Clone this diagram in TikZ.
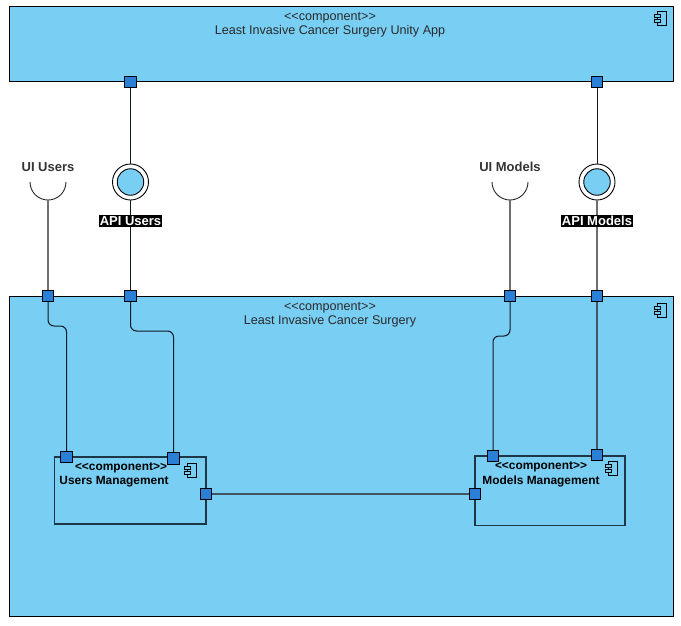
\documentclass[tikz,border=0pt]{standalone}
\usepackage{fontspec}
\setmainfont{Liberation Sans}
\begin{document}
\begin{tikzpicture}[x=1pt,y=-1pt,
  comp/.style={draw=black,line width=1pt,fill=compblue},
  subcomp/.style={draw=subline,line width=1.6pt},
  port/.style={draw=black,line width=0.9pt,fill=portblue,minimum size=11.5pt,inner sep=0pt,rectangle},
  wire/.style={draw=wireblk,line width=1pt},
  gwire/.style={draw=wiregray,line width=1.4pt},
  ttl/.style={font=\fontsize{12.6}{14}\selectfont,text=titlegray,inner sep=0pt},
  subttl/.style={font=\bfseries\fontsize{11.9}{13}\selectfont,text=black,inner sep=0pt},
  lbl/.style={font=\bfseries\fontsize{13}{15}\selectfont,text=lblgray,inner sep=0pt},
  apilbl/.style={font=\bfseries\fontsize{13}{15}\selectfont,text=white,fill=black,inner xsep=1pt,inner ysep=1.5pt},
]
\definecolor{compblue}{HTML}{79CEF4}
\definecolor{portblue}{HTML}{2A80D6}
\definecolor{subline}{HTML}{1E3746}
\definecolor{wireblk}{HTML}{101820}
\definecolor{wiregray}{HTML}{6E6E6E}
\definecolor{titlegray}{HTML}{2A2A2A}
\definecolor{lblgray}{HTML}{333333}
\useasboundingbox (0,0) rectangle (681,625);

% component icon
\newcommand{\compicon}[2]{%
  \draw[line width=0.8pt,fill=compblue] (#1-4,#2-7) rectangle (#1+5,#2+7);
  \draw[line width=0.8pt,fill=compblue] (#1-7,#2-4) rectangle (#1-1,#2-1);
  \draw[line width=0.8pt,fill=compblue] (#1-7,#2+1) rectangle (#1-1,#2+4);
}

% top component
\path[comp] (9,6) rectangle (673,81);
\node[ttl] (topst) at (330,17.5) {{<}{<}component{>}{>}};
\node[ttl] (topname) at (330,31.5) {Least Invasive Cancer Surgery Unity App};
\compicon{661}{18}

% main component
\path[comp] (9,296) rectangle (673,616);
\node[ttl] (mainst) at (330,307.5) {{<}{<}component{>}{>}};
\node[ttl] (mainname) at (330,321.5) {Least Invasive Cancer Surgery};
\compicon{661}{310}

% sub components
\draw[subcomp] (54.5,457) rectangle (206,524);
\node[subttl] (umst) at (121,468) {{<}{<}component{>}{>}};
\node[subttl] (umname) at (114,482) {Users Management};
\compicon{191}{470}

\draw[subcomp] (475,456) rectangle (625,525.5);
\node[subttl] (mmst) at (541,467) {{<}{<}component{>}{>}};
\node[subttl] (mmname) at (541,481) {Models Management};
\compicon{612}{468}

% required interfaces (sockets)
\draw[line width=0.9pt,draw=black!85] (30,182) arc[start angle=180,end angle=0,radius=18];
\draw[line width=0.9pt,draw=black!85] (492,182) arc[start angle=180,end angle=0,radius=18];
\coordinate (uiuB) at (48,200);
\coordinate (uimB) at (510,200);
\node[lbl] (uiulbl) at (48,167) {UI Users};
\node[lbl] (uimlbl) at (510,167) {UI Models};

% provided interfaces (lollipops)
\node[circle,draw=black,line width=0.9pt,fill=white,minimum size=36pt,inner sep=0pt] (apiu) at (130.5,182) {};
\node[circle,draw=black,line width=0.9pt,fill=compblue,minimum size=26.5pt,inner sep=0pt] at (130.5,182) {};
\node[circle,draw=black,line width=0.9pt,fill=white,minimum size=36pt,inner sep=0pt] (apim) at (597,182) {};
\node[circle,draw=black,line width=0.9pt,fill=compblue,minimum size=26.5pt,inner sep=0pt] at (597,182) {};

% ports
\node[port] (pt1) at (130.5,82) {};
\node[port] (pt2) at (597,82) {};
\node[port] (pm1) at (48,296) {};
\node[port] (pm2) at (130.5,296) {};
\node[port] (pm3) at (510,296) {};
\node[port] (pm4) at (597,296) {};
\node[port] (pu1) at (66.5,457) {};
\node[port] (pu2) at (173.5,458.5) {};
\node[port] (pu3) at (206,494) {};
\node[port] (pd1) at (493,456) {};
\node[port] (pd2) at (597,455) {};
\node[port] (pd3) at (475,494) {};

% wires
\draw[wire] (pt1) -- (apiu);
\draw[wire] (apiu) -- (pm2);
\draw[wire] (pt2) -- (apim);
\draw[gwire] (apim) -- (pm4);
\draw[gwire] (uiuB) -- (pm1);
\draw[gwire] (uimB) -- (pm3);

\draw[wire,rounded corners=6pt] (pm1.south) -- (48,326) -- (66.5,326) -- (pu1.north);
\draw[wire,rounded corners=6pt] (pm2.south) -- (130.5,331) -- (173.5,331) -- (pu2.north);
\draw[wire,rounded corners=6pt] (pm3.south) -- (510,336) -- (493,336) -- (pd1.north);
\draw[draw=subline!85,line width=1.2pt] (pm4.south) -- (pd2.north);
\draw[draw=subline!85,line width=1.2pt] (pu3.east) -- (pd3.west);

% labels over wires
\node[apilbl] (apiulbl) at (130.5,221) {API Users};
\node[apilbl] (apimlbl) at (597,221) {API Models};

% redraw ports on top
\foreach \n in {pt1,pt2,pm1,pm2,pm3,pm4,pu1,pu2,pu3,pd1,pd2,pd3}
  \node[port] at (\n) {};
\end{tikzpicture}
\end{document}
